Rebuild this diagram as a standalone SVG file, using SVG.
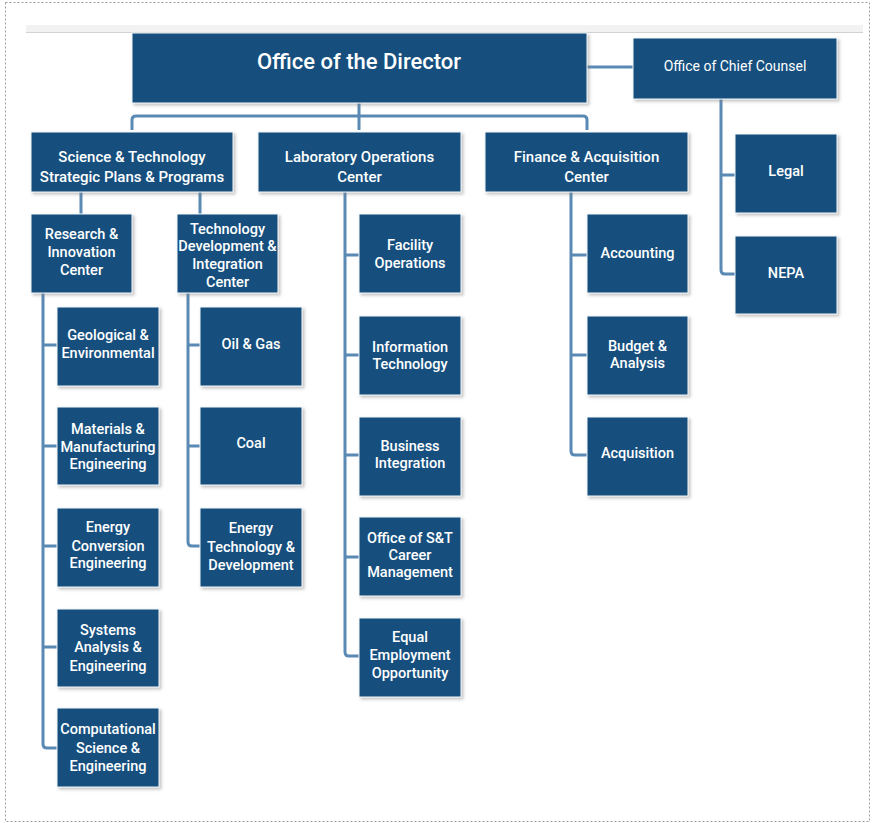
<svg xmlns="http://www.w3.org/2000/svg" width="872" height="823" viewBox="0 0 872 823">
<style>
.box{fill:#15507e;stroke:#f4f6f9;stroke-width:1;filter:url(#sh)}
.t{fill:#ffffff;font-family:Roboto,"Liberation Sans",sans-serif;font-size:14.5px;font-weight:500;text-anchor:middle}
.t2{font-size:15px}
.t1{font-size:22px}
.t3{font-size:14px;font-weight:400}
.ln{fill:none;stroke:#5a8ab3;stroke-width:3;stroke-linejoin:round}
</style>
<defs>
<filter id="sh" x="-10%" y="-10%" width="125%" height="125%">
<feDropShadow dx="2" dy="2" stdDeviation="1.6" flood-color="#7a7a7a" flood-opacity="0.45"/>
</filter>
</defs>
<rect x="0" y="0" width="872" height="823" fill="#ffffff"/>
<rect x="5.5" y="2.5" width="864" height="819" fill="none" stroke="#9e9e9e" stroke-width="1" stroke-dasharray="2,2"/>
<rect x="26" y="25" width="837" height="7" fill="#f2f2f2"/>
<line x1="26" y1="32.5" x2="863" y2="32.5" stroke="#d2d2d2" stroke-width="1"/>

<g id="connectors">
<path class="ln" d="M587 67 H633"/>
<path class="ln" d="M359 103 V130"/>
<path class="ln" d="M132 130 V120 Q132 116 136 116 H583 Q587 116 587 120 V130"/>
<path class="ln" d="M721 99 V270 Q721 274 725 274 H736 M721 175 H736"/>
<path class="ln" d="M81 192 V214 M200 192 V214"/>
<path class="ln" d="M43 293 V744 Q43 748 47 748 H58 M43 345 H58 M43 446 H58 M43 546 H58 M43 647 H58"/>
<path class="ln" d="M188 293 V542 Q188 546 192 546 H201 M188 345 H201 M188 446 H201"/>
<path class="ln" d="M345 192 V652 Q345 656 349 656 H360 M345 255 H360 M345 355 H360 M345 455 H360 M345 557 H360"/>
<path class="ln" d="M571 192 V451 Q571 455 575 455 H588 M571 255 H588 M571 355 H588"/>
</g>

<g id="director"><rect class="box" x="132" y="33" width="455" height="70"/><text class="t t1" x="359" y="69">Office of the Director</text></g>
<g id="counsel"><rect class="box" x="633" y="38" width="204" height="61"/><text class="t t3" x="735" y="71">Office of Chief Counsel</text></g>
<g id="legal"><rect class="box" x="735" y="134" width="102" height="79"/><text class="t" x="786" y="176">Legal</text></g>
<g id="nepa"><rect class="box" x="735" y="236" width="102" height="78"/><text class="t" x="786" y="278">NEPA</text></g>

<g id="st"><rect class="box" x="31" y="132" width="202" height="60"/><text class="t t2" x="132" y="162">Science &amp; Technology<tspan x="132" y="182">Strategic Plans &amp; Programs</tspan></text></g>
<g id="lab"><rect class="box" x="258" y="132" width="203" height="60"/><text class="t t2" x="359.5" y="162">Laboratory Operations<tspan x="359.5" y="182">Center</tspan></text></g>
<g id="fin"><rect class="box" x="485" y="132" width="203" height="60"/><text class="t t2" x="586.5" y="162">Finance &amp; Acquisition<tspan x="586.5" y="182">Center</tspan></text></g>

<g id="research"><rect class="box" x="31" y="214" width="101" height="79"/><text class="t" x="81.5" y="239">Research &amp;<tspan x="81.5" y="257">Innovation</tspan><tspan x="81.5" y="275">Center</tspan></text></g>
<g id="techdev"><rect class="box" x="177" y="214" width="101" height="79"/><text class="t" x="227.5" y="234">Technology<tspan x="227.5" y="251">Development &amp;</tspan><tspan x="227.5" y="269">Integration</tspan><tspan x="227.5" y="287">Center</tspan></text></g>

<g id="geo"><rect class="box" x="57" y="307" width="102" height="79"/><text class="t" x="108" y="340">Geological &amp;<tspan x="108" y="358">Environmental</tspan></text></g>
<g id="materials"><rect class="box" x="57" y="407" width="102" height="78"/><text class="t" x="108" y="434">Materials &amp;<tspan x="108" y="452">Manufacturing</tspan><tspan x="108" y="469">Engineering</tspan></text></g>
<g id="energyconv"><rect class="box" x="57" y="508" width="102" height="79"/><text class="t" x="108" y="532">Energy<tspan x="108" y="551">Conversion</tspan><tspan x="108" y="568">Engineering</tspan></text></g>
<g id="systems"><rect class="box" x="57" y="609" width="102" height="78"/><text class="t" x="108" y="635">Systems<tspan x="108" y="652">Analysis &amp;</tspan><tspan x="108" y="671">Engineering</tspan></text></g>
<g id="computational"><rect class="box" x="57" y="708" width="102" height="79"/><text class="t" x="108" y="734">Computational<tspan x="108" y="753">Science &amp;</tspan><tspan x="108" y="771">Engineering</tspan></text></g>

<g id="oilgas"><rect class="box" x="200" y="307" width="102" height="79"/><text class="t" x="251" y="349">Oil &amp; Gas</text></g>
<g id="coal"><rect class="box" x="200" y="407" width="102" height="78"/><text class="t" x="251" y="448">Coal</text></g>
<g id="energytech"><rect class="box" x="200" y="508" width="102" height="79"/><text class="t" x="251" y="533">Energy<tspan x="251" y="552">Technology &amp;</tspan><tspan x="251" y="570">Development</tspan></text></g>

<g id="facility"><rect class="box" x="359" y="214" width="102" height="79"/><text class="t" x="410" y="250">Facility<tspan x="410" y="268">Operations</tspan></text></g>
<g id="infotech"><rect class="box" x="359" y="316" width="102" height="79"/><text class="t" x="410" y="352">Information<tspan x="410" y="369">Technology</tspan></text></g>
<g id="business"><rect class="box" x="359" y="417" width="102" height="79"/><text class="t" x="410" y="451">Business<tspan x="410" y="468">Integration</tspan></text></g>
<g id="officest"><rect class="box" x="359" y="517" width="102" height="79"/><text class="t" x="410" y="543">Office of S&amp;T<tspan x="410" y="560">Career</tspan><tspan x="410" y="577">Management</tspan></text></g>
<g id="equal"><rect class="box" x="359" y="618" width="102" height="79"/><text class="t" x="410" y="642">Equal<tspan x="410" y="660">Employment</tspan><tspan x="410" y="678">Opportunity</tspan></text></g>

<g id="accounting"><rect class="box" x="587" y="214" width="101" height="79"/><text class="t" x="637.5" y="258">Accounting</text></g>
<g id="budget"><rect class="box" x="587" y="316" width="101" height="79"/><text class="t" x="637.5" y="351">Budget &amp;<tspan x="637.5" y="368">Analysis</tspan></text></g>
<g id="acquisition"><rect class="box" x="587" y="417" width="101" height="79"/><text class="t" x="637.5" y="458">Acquisition</text></g>
</svg>
